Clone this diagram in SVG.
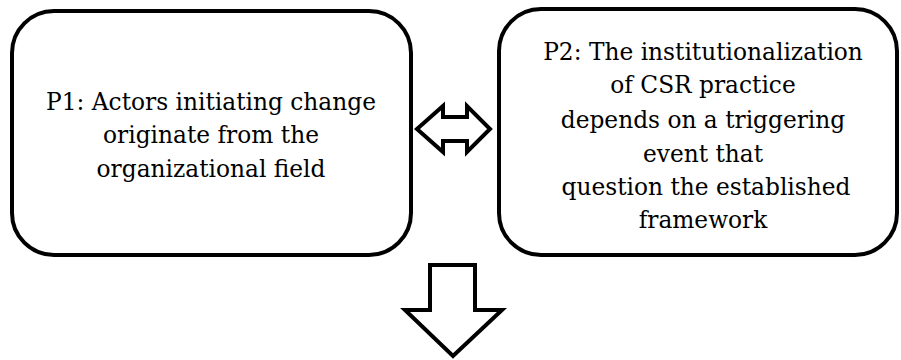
<svg xmlns="http://www.w3.org/2000/svg" width="901" height="360" viewBox="0 0 901 360">
<style>
.box{fill:#fff;stroke:#000;stroke-width:4}
.arr{fill:#fff;stroke:#000;stroke-width:4;stroke-linejoin:miter}
</style>
<rect width="901" height="360" fill="#fff"/>
<g id="p1">
<rect class="box" x="12" y="11" width="399" height="244" rx="42" ry="42"/>
<g font-family="DejaVu Serif, Liberation Serif, serif" font-size="23.3" text-anchor="middle" fill="#000">
<text x="211" y="110">P1: Actors initiating change</text>
<text x="211" y="143">originate from the</text>
<text x="211" y="177">organizational field</text>
</g>
</g>
<g id="p2">
<rect class="box" x="499" y="9" width="398" height="246" rx="42" ry="42"/>
<g font-family="DejaVu Serif, Liberation Serif, serif" font-size="23.3" text-anchor="middle" fill="#000">
<text x="703" y="60">P2: The institutionalization</text>
<text x="703" y="93">of CSR practice</text>
<text x="703" y="128">depends on a triggering</text>
<text x="703" y="162">event that</text>
<text x="706" y="195">question the established</text>
<text x="703" y="228">framework</text>
</g>
</g>
<g id="connectors">
<polygon class="arr" points="417,129 443,106 443,117 467,117 467,106 490,129 467,152 467,141 443,141 443,152"/>
<polygon class="arr" points="430,265 475,265 475,310 502,310 453,356 405,310 430,310"/>
</g>
</svg>
